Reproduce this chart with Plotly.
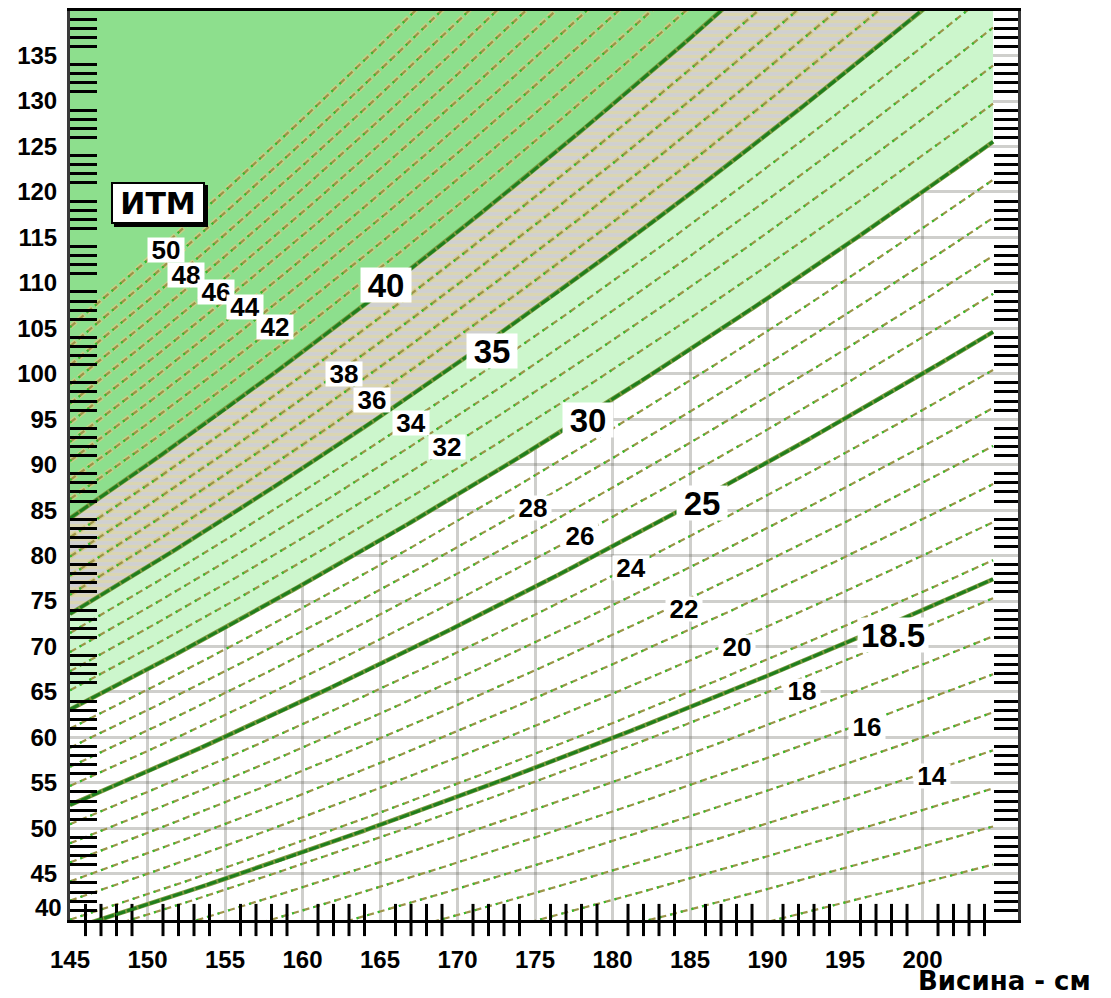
import numpy as np
import plotly.graph_objects as go

# ---------------- data ----------------
# thin BMI iso-lines (kg/m^2)
bmi_thin = [11, 12, 13, 14, 15, 16, 17, 18, 19, 20, 21, 22, 23, 24, 26, 27, 28, 29,
            31, 32, 33, 34, 36, 37, 38, 39, 41, 42, 43, 44, 45, 46, 47, 48, 49, 50]
# thick BMI boundaries
bmi_major = [18.5, 25, 30, 35, 40]
# shaded bands (lower, upper BMI); upper None = up to the top of the chart
band_lower = [30, 35, 40]
band_upper = [35, 40, None]
band_names = ["30-35", "35-40", "40+"]

height_min_cm = 145.0
height_max_cm = 204.55

x_tick_vals = [145, 150, 155, 160, 165, 170, 175, 180, 185, 190, 195, 200]
y_tick_vals = [45, 50, 55, 60, 65, 70, 75, 80, 85, 90, 95, 100, 105, 110, 115, 120, 125, 130, 135]
y_extra_label = "40"

# iso-line labels
label_text = ["50", "48", "46", "44", "42", "38", "36", "34", "32",
              "28", "26", "24", "22", "20", "18", "16", "14"]
label_h = [151.2, 152.5, 154.4, 156.3, 158.2, 162.7, 164.5, 167.0, 169.3,
           174.9, 177.9, 181.2, 184.6, 188.0, 192.2, 196.4, 200.6]
label_w = [113.6, 110.85, 109.0, 107.3, 105.15, 100.0, 97.15, 94.6, 92.0,
           85.2, 82.2, 78.6, 74.1, 69.95, 65.1, 61.1, 55.8]

big_text = ["40", "35", "30", "25", "18.5"]
big_h = [165.4, 172.2, 178.4, 185.8, 198.1]
big_w = [109.75, 102.5, 94.95, 85.75, 71.3]

title_text = "ИТМ"
title_pos = (150.7, 118.75)
x_title = "Висина - см"

X_RANGE = [145, 206.16]
Y_RANGE = [39.92, 139.9]

# ---------------- build ----------------
h = np.linspace(height_min_cm, height_max_cm, 400)
hm2 = (h / 100.0) ** 2


def curves(values):
    xs, ys = [], []
    for b in values:
        xs += list(h) + [None]
        ys += list(b * hm2) + [None]
    return xs, ys


fig = go.Figure()

band_colors = ["#CCF6CC", "#D0D0D0", "#8DDF8D"]
for lo, up, name, col in zip(band_lower, band_upper, band_names, band_colors):
    low = lo * hm2
    upp = up * hm2 if up is not None else np.full_like(h, Y_RANGE[1] + 5)
    tr = dict(
        x=np.concatenate([h, h[::-1]]),
        y=np.concatenate([low, upp[::-1]]),
        fill="toself", fillcolor=col, mode="lines",
        line=dict(width=0, color=col), hoverinfo="skip", name=name,
    )
    if name == "35-40":
        tr["fillpattern"] = dict(shape="-", fgcolor="#E4DA94", bgcolor=col,
                                 size=7, solidity=0.45)
    fig.add_trace(go.Scatter(**tr))

# khaki halo round the iso-lines inside the obese bands
hx_, hy_ = curves([b for b in bmi_thin if b > 35])
fig.add_trace(go.Scatter(x=hx_, y=hy_, mode="lines", hoverinfo="skip", opacity=0.75,
                         line=dict(color="#D6CC84", width=5, dash="8px,3px")))

tx, ty = curves(bmi_thin)
fig.add_trace(go.Scatter(x=tx, y=ty, mode="lines", hoverinfo="skip",
                         line=dict(color="#9C9448", width=2.2, dash="7px,4px")))
fig.add_trace(go.Scatter(x=tx, y=ty, mode="lines", hoverinfo="skip",
                         line=dict(color="#2DBE2D", width=2.2, dash="2px,9px")))

mx, my = curves(bmi_major)
fig.add_trace(go.Scatter(x=mx, y=my, mode="lines", hoverinfo="skip",
                         line=dict(color="#7E9A3E", width=4.5)))
fig.add_trace(go.Scatter(x=mx, y=my, mode="lines", hoverinfo="skip",
                         xaxis="x2", yaxis="y2",
                         line=dict(color="#1E7E1E", width=3, dash="10px,2px")))

# 1 cm ticks crossing the bottom axis line
x_minor = [v for v in range(146, 205) if v % 5 != 0]
fig.add_trace(go.Scatter(x=x_minor, y=[Y_RANGE[0]] * len(x_minor), mode="markers",
                         hoverinfo="skip", cliponaxis=False,
                         marker=dict(symbol="line-ns", size=23, color="black",
                                     line=dict(color="black", width=3))))

tickfont = dict(family="Liberation Sans", size=24, color="black", weight="bold")
grid_col = "rgba(95,95,85,0.30)"

y_minor = [v for v in range(41, 140) if v % 5 != 0]

# the page body adds an 8px offset, margins compensate for it
fig.update_layout(
    width=1111, height=998,
    margin=dict(l=62, r=101, t=0, b=86),
    plot_bgcolor="white", paper_bgcolor="white",
    showlegend=False,
    xaxis=dict(range=X_RANGE, tickmode="array", tickvals=x_tick_vals,
               ticktext=[str(v) for v in x_tick_vals],
               ticks="outside", ticklen=16, tickcolor="rgba(0,0,0,0)",
               tickfont=tickfont, showgrid=True, gridcolor=grid_col, gridwidth=2.5,
               showline=True, linecolor="black", linewidth=3, mirror=True,
               zeroline=False, layer="above traces"),
    xaxis2=dict(range=X_RANGE, overlaying="x", anchor="y", side="bottom",
                showgrid=False, showticklabels=False, ticks="", zeroline=False,
                showline=False),
    yaxis=dict(range=Y_RANGE, tickmode="array", tickvals=y_tick_vals,
               ticktext=[str(v) for v in y_tick_vals],
               ticks="outside", ticklen=5, tickcolor="rgba(0,0,0,0)",
               tickfont=tickfont, showgrid=True, gridcolor=grid_col, gridwidth=2.5,
               showline=True, linecolor="#3A3A3A", linewidth=3, mirror=True,
               zeroline=False, layer="above traces",
               minor=dict(tickmode="array", tickvals=y_minor, ticks="inside",
                          ticklen=27, tickwidth=3, tickcolor="black", showgrid=False)),
    yaxis2=dict(range=Y_RANGE, overlaying="y", anchor="x2", side="right",
                showgrid=False, showticklabels=False, ticks="", zeroline=False,
                showline=False, layer="above traces",
                minor=dict(tickmode="array", tickvals=y_minor, ticks="inside",
                           ticklen=24, tickwidth=3, tickcolor="black", showgrid=False)),
)

ann = []
for t, hx, wy in zip(label_text, label_h, label_w):
    ann.append(dict(x=hx, y=wy, xref="x", yref="y", text=t, showarrow=False,
                    font=dict(family="Liberation Sans", size=26, color="black", weight="bold"),
                    bgcolor="white", width=36, height=24, borderpad=0))
for t, hx, wy in zip(big_text, big_h, big_w):
    ann.append(dict(x=hx, y=wy, xref="x", yref="y", text=t, showarrow=False,
                    font=dict(family="Liberation Sans", size=33, color="black", weight="bold"),
                    bgcolor="white", width=(70 if "." in t else 50), height=34, borderpad=0))
# ИТМ box with a drop shadow
ann.append(dict(x=title_pos[0], y=title_pos[1], xref="x", yref="y", text=" ",
                showarrow=False, xshift=3, yshift=-3,
                font=dict(family="DejaVu Sans", size=30, color="black"),
                bgcolor="black", bordercolor="black", borderwidth=2,
                width=90, height=38, borderpad=0))
ann.append(dict(x=title_pos[0], y=title_pos[1], xref="x", yref="y", text=title_text,
                showarrow=False,
                font=dict(family="DejaVu Sans", size=30, color="black", weight="bold"),
                bgcolor="white", bordercolor="black", borderwidth=2,
                width=90, height=38, borderpad=0))
# y label "40" (lifted above the x axis as in the original)
ann.append(dict(x=0, y=41.35, xref="paper", yref="y", text=y_extra_label,
                showarrow=False, xanchor="right", xshift=-6, font=tickfont))
# x-axis title
ann.append(dict(x=1.079, y=-0.0858, xref="paper", yref="paper", text=x_title,
                showarrow=False, xanchor="right", yanchor="bottom",
                font=dict(family="DejaVu Sans", size=26, color="black", weight="bold")))
fig.update_layout(annotations=ann)

fig.write_html("out.html")
